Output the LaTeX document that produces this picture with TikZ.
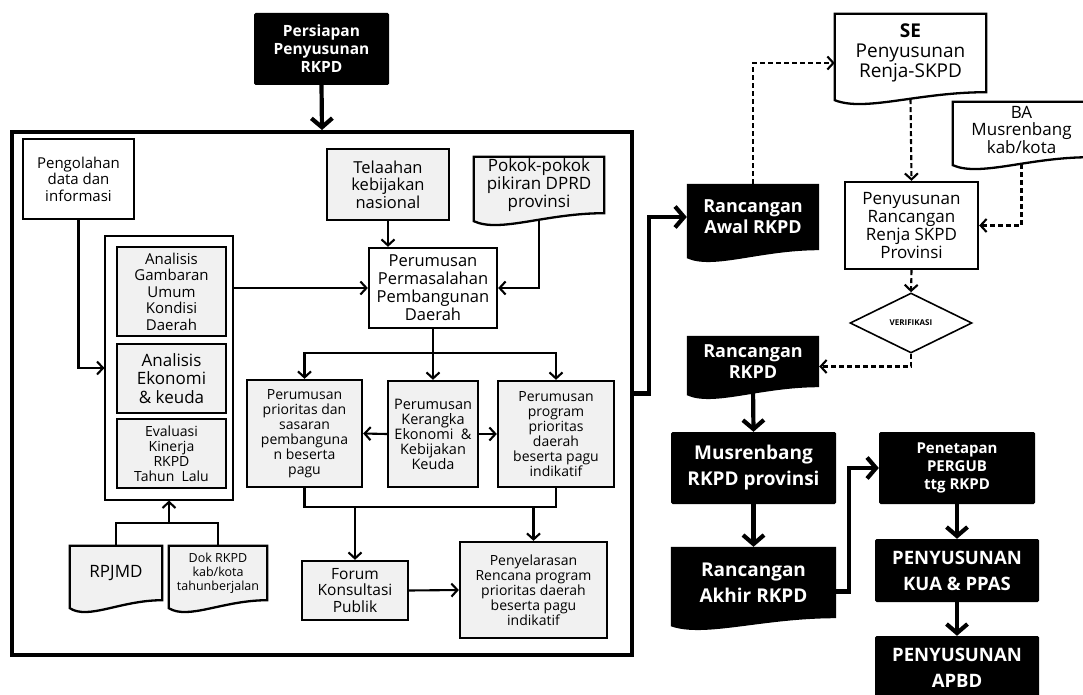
\documentclass[tikz,border=0pt]{standalone}
\usepackage{fontspec}
\setmainfont{Open Sans}
\usetikzlibrary{arrows.meta,calc,shapes.geometric,backgrounds}
\definecolor{BoxGray}{RGB}{241,241,241}

% document outline: flat top, wavy bottom
\newcommand{\docpath}[2]{%
  \path[#2] (#1.north west) -- (#1.north east) -- (#1.south east)
    .. controls ($(#1.south east)!0.45!(#1.south west)$) and ($(#1.south east)!0.8!(#1.south west)+(0,20)$)
    .. ($(#1.south west)+(0,8)$) -- cycle;}

\begin{document}
\begin{tikzpicture}[x=1pt,y=-1pt,
    every node/.style={align=center,inner sep=0pt},
    gb/.style={draw,line width=2.3pt,fill=BoxGray},
    wb/.style={draw,line width=2.3pt,fill=white},
    bb/.style={fill=black,text=white,rounded corners=1.5pt},
    dc/.style={},
    docln/.style={draw,line width=2.3pt},
    jn/.style={line width=2.1pt},
    ln/.style={line width=2.1pt,-{Straight Barb[length=6pt,width=13pt]}},
    dl/.style={ln,dash pattern=on 5pt off 3pt},
    fl/.style={line width=4.2pt,-{Straight Barb[length=9pt,width=21pt]}}
  ]
  \useasboundingbox (0,0) rectangle (1083,695);

  % left part: inside the big frame
  \node[bb,minimum width=135pt,minimum height=72pt,font=\bfseries\fontsize{15.5}{18}\selectfont] (persiapan) at (321.5,49) {Persiapan\\Penyusunan\\RKPD};
  \node[draw,line width=4pt,minimum width=620pt,minimum height=523pt] (frame) at (322,393.5) {};

  \node[wb,minimum width=111pt,minimum height=80pt,font=\fontsize{15}{16.5}\selectfont] (pengolahan) at (78.5,179) {Pengolahan\\data dan\\informasi};
  \node[draw,line width=1.1pt,minimum width=128pt,minimum height=264pt] (container) at (169,368) {};
  \node[gb,minimum width=109pt,minimum height=89pt,font=\fontsize{15}{16.5}\selectfont] (gambaran) at (171.5,291.5) {Analisis\\Gambaran\\Umum\\Kondisi\\Daerah};
  \node[gb,minimum width=109pt,minimum height=69pt,font=\fontsize{17}{18.3}\selectfont] (ekonomi) at (171.5,378.5) {Analisis\\Ekonomi\\\& keuda};
  \node[gb,minimum width=109pt,minimum height=69pt,font=\fontsize{14}{15}\selectfont] (evaluasi) at (171.5,453.5) {Evaluasi\\Kinerja\\RKPD\\Tahun~~Lalu};
  \node[dc,minimum width=92pt,minimum height=54pt,font=\fontsize{17}{18}\selectfont] (rpjmd) at (116,573) {RPJMD};
  \node[dc,minimum width=98pt,minimum height=54pt,font=\fontsize{12.5}{14}\selectfont] (dok) at (218,573) {Dok RKPD\\kab/kota\\tahunberjalan};

  \node[gb,minimum width=122pt,minimum height=71pt,font=\fontsize{16.5}{17.5}\selectfont] (telaahan) at (388,184.5) {Telaahan\\kebijakan\\nasional};
  \node[dc,minimum width=130pt,minimum height=56pt,font=\fontsize{17}{17.7}\selectfont] (pokok) at (539,185) {Pokok-pokok\\pikiran DPRD\\provinsi};
  \node[wb,minimum width=128pt,minimum height=80pt,font=\fontsize{16.5}{18}\selectfont] (permasalahan) at (433,288) {Perumusan\\Permasalahan\\Pembangunan\\Daerah};
  \node[gb,minimum width=115pt,minimum height=107pt,font=\fontsize{14}{15}\selectfont] (prioritas) at (304.5,433.5) {Perumusan\\prioritas dan\\sasaran\\pembanguna\\n beserta\\pagu};
  \node[gb,minimum width=90pt,minimum height=106pt,font=\fontsize{14.5}{15}\selectfont] (kerangka) at (433,434) {Perumusan\\Kerangka\\Ekonomi~~\&\\Kebijakan\\Keuda};
  \node[gb,minimum width=116pt,minimum height=106pt,font=\fontsize{14}{15}\selectfont] (program) at (556,434) {Perumusan\\program\\prioritas\\daerah\\beserta pagu\\indikatif};
  \node[gb,minimum width=106pt,minimum height=59pt,font=\fontsize{15.5}{16.5}\selectfont] (forum) at (355,590.5) {Forum\\Konsultasi\\Publik};
  \node[gb,minimum width=147pt,minimum height=96pt,font=\fontsize{14}{15}\selectfont] (penyelarasan) at (533.5,590) {Penyelarasan\\Rencana program\\prioritas daerah\\beserta pagu\\indikatif};

  % right part
  \node[dc,text=white,minimum width=132pt,minimum height=66pt,font=\bfseries\fontsize{18}{21}\selectfont] (awal) at (753,217) {Rancangan\\Awal RKPD};
  \node[dc,minimum width=151pt,minimum height=78pt,font=\fontsize{19}{20}\selectfont] (se) at (910.5,53) {\textbf{SE}\\Penyusunan\\Renja-SKPD};
  \node[dc,minimum width=137pt,minimum height=55pt,font=\fontsize{17}{17.5}\selectfont] (ba) at (1021.5,129.5) {BA\\Musrenbang\\kab/kota};
  \node[wb,minimum width=133pt,minimum height=87pt,font=\fontsize{17}{18}\selectfont] (renja) at (911.5,225.5) {Penyusunan\\Rancangan\\Renja SKPD\\Provinsi};
  \node[diamond,draw,line width=1.6pt,fill=white,minimum width=122pt,minimum height=60pt,font=\bfseries\fontsize{8}{9}\selectfont] (verif) at (911,323) {VERIFIKASI};
  \node[dc,text=white,minimum width=132pt,minimum height=51pt,font=\bfseries\fontsize{18}{21}\selectfont] (rkpd) at (753,361.5) {Rancangan\\RKPD};
  \node[bb,minimum width=165pt,minimum height=72pt,font=\bfseries\fontsize{19}{26}\selectfont] (musrenbang) at (753.5,468) {Musrenbang\\RKPD provinsi};
  \node[dc,text=white,minimum width=165pt,minimum height=71pt,font=\bfseries\fontsize{19}{26}\selectfont] (akhir) at (753.5,582.5) {Rancangan\\Akhir RKPD};
  \node[bb,minimum width=156pt,minimum height=72pt,font=\bfseries\fontsize{15}{18}\selectfont] (penetapan) at (957,468) {Penetapan\\PERGUB\\ttg RKPD};
  \node[bb,minimum width=164pt,minimum height=63pt,font=\bfseries\fontsize{18.5}{26}\selectfont] (kua) at (957,570.5) {PENYUSUNAN\\KUA \& PPAS};
  \node[bb,minimum width=164pt,minimum height=64pt,font=\bfseries\fontsize{18.5}{26}\selectfont] (apbd) at (957,668) {PENYUSUNAN\\APBD};

  % document shapes behind their text
  \begin{scope}[on background layer]
    \foreach \d in {rpjmd,dok,pokok} { \docpath{\d}{docln,fill=BoxGray} }
    \foreach \d in {se,ba} { \docpath{\d}{docln,fill=white} }
    \foreach \d in {awal,rkpd,akhir} { \docpath{\d}{fill=black} }
  \end{scope}

  % links inside the frame
  \draw[ln] (pengolahan.south) |- (container.west);
  \draw[ln] (container.east |- permasalahan.west) -- (permasalahan.west);
  \draw[ln] (telaahan.south) -- (telaahan.south |- permasalahan.north);
  \draw[ln] ([yshift=-7pt]pokok.south) |- (permasalahan.east);
  \foreach \b in {prioritas,kerangka,program}
    \draw[ln] (permasalahan.south) -- ++(0,24) -| (\b.north);
  \draw[ln] (kerangka.west) -- (prioritas.east);
  \draw[ln] (kerangka.east) -- (program.west);
  \draw[jn] (prioritas.south) -- ++(0,19) coordinate (mj) -| (program.south);
  \draw[ln] (mj -| forum.north) -- (forum.north);
  \draw[ln] (mj -| penyelarasan.north) -- (penyelarasan.north);
  \draw[ln] (forum.east) -- (penyelarasan.west);
  \draw[jn] (rpjmd.north) -- ++(0,-23) coordinate (dj) -| (dok.north);
  \draw[ln] (dj -| container.south) -- (container.south);

  % main flow
  \draw[fl] (persiapan.south) -- (frame.north);
  \draw[fl] (frame.east) -- ++(15,0) |- (awal.west);
  \draw[fl] (rkpd.south) -- (musrenbang.north);
  \draw[fl] (musrenbang.south) -- (akhir.north);
  \draw[fl] ([yshift=-9pt]akhir.east) -- ++(13,0) |- (penetapan.west);
  \draw[fl] (penetapan.south) -- (kua.north);
  \draw[fl] (kua.south) -- (apbd.north);

  % Renja SKPD loop
  \draw[dl] (awal.north) |- ([yshift=-10pt]se.west);
  \draw[dl] ([yshift=-7pt]se.south) -- (renja.north);
  \draw[dl] ([yshift=-7pt]ba.south) |- (renja.east);
  \draw[dl] (renja.south) -- (verif.north);
  \draw[dl] (verif.south) |- ([yshift=-5pt]rkpd.east);
\end{tikzpicture}
\end{document}
